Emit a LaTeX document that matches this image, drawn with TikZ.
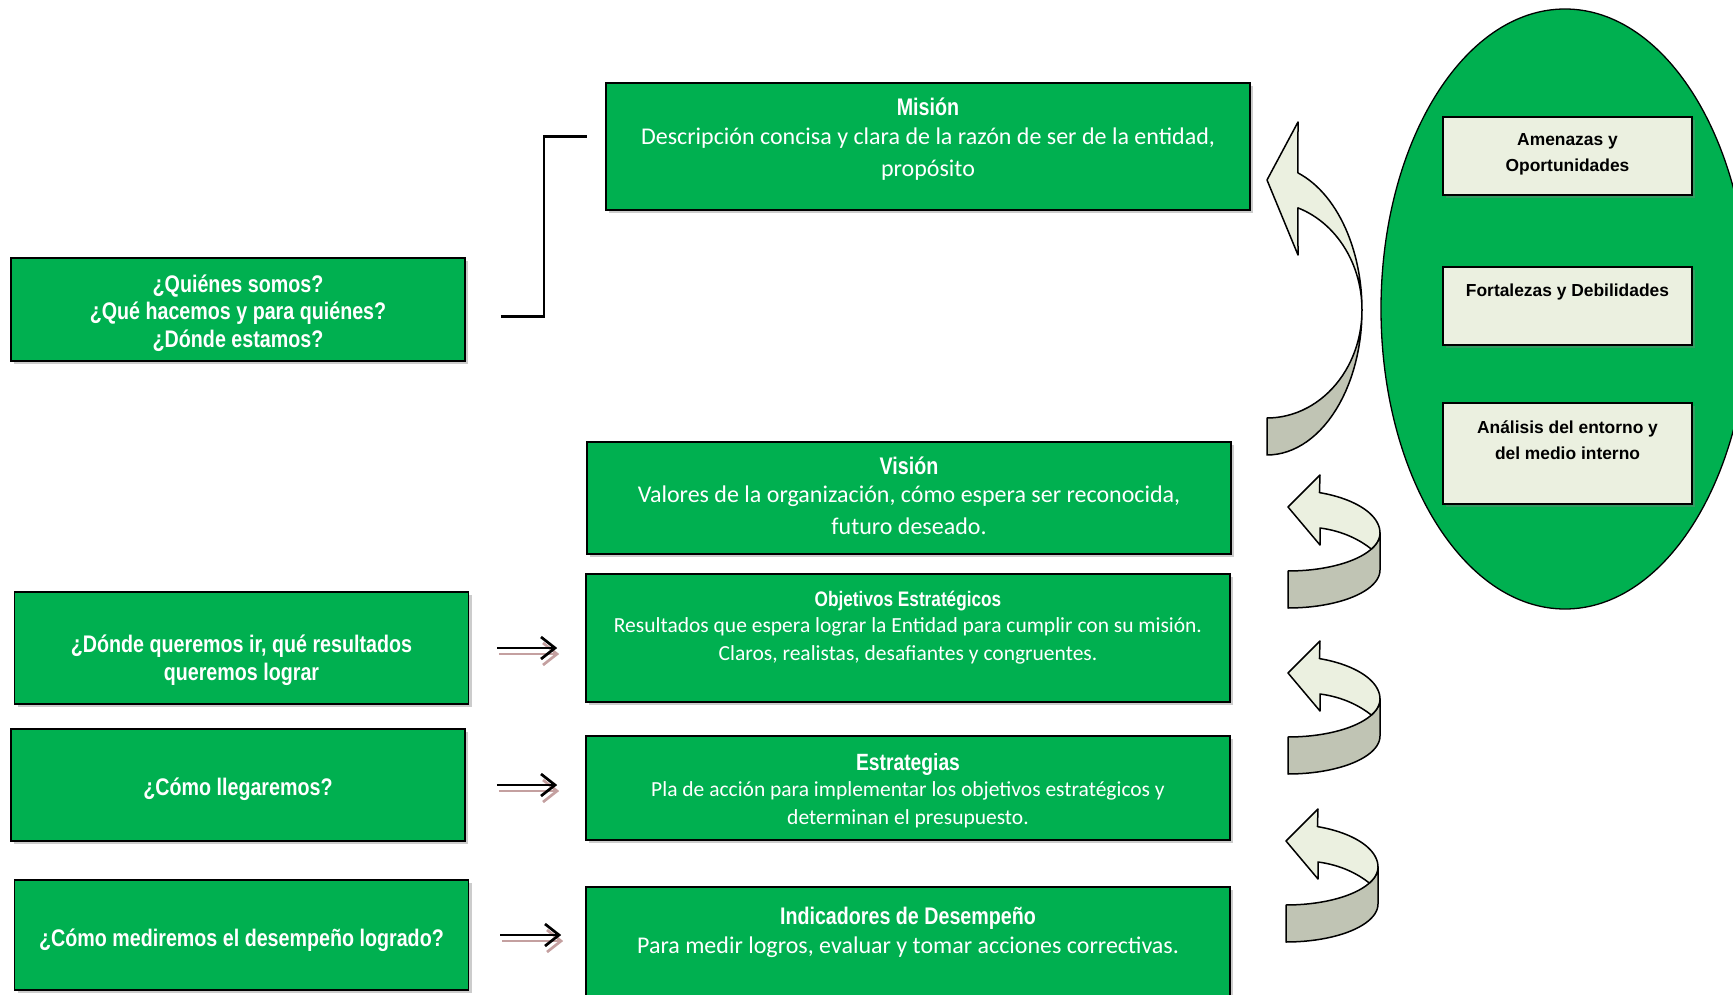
\documentclass[tikz,border=0pt]{standalone}
\usepackage{fontspec}
\setmainfont{Carlito}
\newfontfamily\narrowfont[FakeStretch=0.82]{Liberation Sans}
\newfontfamily\arialfont{Liberation Sans}
\usetikzlibrary{shapes.geometric,shadows,arrows.meta}

\definecolor{boxgreen}{RGB}{0,176,80}
\definecolor{paleolive}{RGB}{235,240,224}
\definecolor{greyolive}{RGB}{192,196,180}
\definecolor{rosegrey}{RGB}{196,160,160}

\tikzset{
  greenbox/.style={draw=black, line width=1.6pt, fill=boxgreen, text=white, align=center,
    minimum width=644pt, inner sep=0pt, font=\fontsize{24}{32}\selectfont,
    drop shadow={shadow xshift=3pt, shadow yshift=-3pt, opacity=0.4}},
  askbox/.style={greenbox, minimum width=454pt,
    font=\narrowfont\bfseries\fontsize{24}{27.5}\selectfont},
  entbox/.style={draw=black, line width=1.3pt, fill=paleolive, minimum width=249pt,
    inner sep=0pt, align=center, font=\arialfont\bfseries\fontsize{17.4}{26}\selectfont,
    drop shadow={shadow xshift=3pt, shadow yshift=-3pt, opacity=0.4}},
  fwd/.style={line width=2.7pt, -{Straight Barb[length=14pt,width=22pt]}},
  fwdshade/.style={fwd, draw=rosegrey, transform canvas={shift={(2pt,-6pt)}}},
  bracket/.style={line width=2.2pt},
  twist/.style={draw=black, line width=1.5pt, line join=round}
}

\begin{document}
\begin{tikzpicture}[x=1pt,y=-1pt]
\useasboundingbox (0,0) rectangle (1733,995);

% analisis del entorno
\node[ellipse, draw=black, line width=1.3pt, fill=boxgreen, minimum width=368pt,
  minimum height=600pt, inner sep=0pt] (entorno) at (1565,309) {};
\node[entbox, minimum height=78pt, text depth=7pt] (amenazas) at (1567.5,156) {Amenazas y\\ Oportunidades};
\node[entbox, minimum height=78pt, text depth=32pt] (fortalezas) at (1567.5,306) {Fortalezas y Debilidades};
\node[entbox, minimum height=101pt, text depth=26pt] (analisis) at (1567.5,453.5) {Análisis del entorno y\\ del medio interno};

% preguntas
\node[askbox, minimum height=103pt, text height=79.6pt] (q1) at (238,309.5) {¿Quiénes somos?\\ ¿Qué hacemos y para quiénes?\\ ¿Dónde estamos?};
\node[askbox, minimum height=112pt, text height=70pt] (q2) at (241.5,648) {¿Dónde queremos ir, qué resultados\\ queremos lograr};
\node[askbox, minimum height=112pt, text height=26.5pt] (q3) at (238,785) {¿Cómo llegaremos?};
\node[askbox, minimum height=110pt, text height=27.5pt] (q4) at (241.5,935) {¿Cómo mediremos el desempeño logrado?};

% plan
\node[greenbox, minimum height=127pt, text depth=18pt] (mision) at (928,146.5)
  {{\narrowfont\bfseries Misión}\\[-3pt] Descripción concisa y clara de la razón de ser de la entidad,\\ propósito};
\node[greenbox, minimum height=112pt, text height=78pt, text depth=5pt] (vision) at (909,498)
  {{\narrowfont\bfseries Visión}\\[-4pt] Valores de la organización, cómo espera ser reconocida,\\ futuro deseado.};
\node[greenbox, minimum height=128pt, text depth=25pt, font=\fontsize{21.5}{27.5}\selectfont] (objetivos) at (908,638)
  {{\narrowfont\bfseries\fontsize{21}{27}\selectfont Objetivos Estratégicos}\\[-1pt] Resultados que espera lograr la Entidad para cumplir con su misión.\\ Claros, realistas, desafiantes y congruentes.};
\node[greenbox, minimum height=104pt, text height=76pt, font=\fontsize{21.5}{27.5}\selectfont] (estrategias) at (908,788)
  {{\narrowfont\bfseries\fontsize{23.5}{27}\selectfont Estrategias}\\[-1pt] Pla de acción para implementar los objetivos estratégicos y\\ determinan el presupuesto.};
\node[greenbox, minimum height=123pt, text depth=37pt] (indicadores) at (908,948.5)
  {{\narrowfont\bfseries Indicadores de Desempeño}\\[-3pt] Para medir logros, evaluar y tomar acciones correctivas.};

% conectores
\draw[bracket] (q1.east) ++(35,7) -- ++(43,0) |- ([xshift=-18pt,yshift=10pt]mision.west);
\foreach \qa/\qb/\sa/\sb in {q2/objetivos/28/28, q3/estrategias/31/28, q4/indicadores/31/24}{
  \draw[fwdshade, shorten <=\sa pt, shorten >=\sb pt] (\qa.east) -- (\qa.east -| \qb.west);
  \draw[fwd, shorten <=\sa pt, shorten >=\sb pt] (\qa.east) -- (\qa.east -| \qb.west);
}

% flecha grande
\filldraw[twist, fill=greyolive] plot[domain=0:90, samples=30] ({1267+95*cos(\x)},{310+145*sin(\x)})
  -- plot[domain=90:0, samples=30] ({1267+95*cos(\x)},{310+108*sin(\x)}) -- cycle;
\filldraw[twist, fill=paleolive] (1298,122) -- (1267,180) -- (1298,255)
  -- plot[domain=-71:0, samples=30] ({1267+95*cos(\x)},{310+108*sin(\x)})
  -- plot[domain=0:-71, samples=30] ({1267+95*cos(\x)},{310+145*sin(\x)}) -- cycle;

% flechas pequenas
\foreach \ox/\oy in {1288/533, 1288/699, 1286/867}{
  \begin{scope}[shift={(\ox,\oy)}]
    \filldraw[twist, fill=greyolive] plot[domain=0:90, samples=25] ({92*cos(\x)},{37+38*sin(\x)})
      -- (0,38) -- plot[domain=90:0, samples=25] ({92*cos(\x)},{38*sin(\x)}) -- cycle;
    \filldraw[twist, fill=paleolive] (32,-58) -- (0,-26) -- (32,12) -- (32,-5)
      .. controls (55,-2) and (72,7) .. (83.4,16.1)
      -- plot[domain=25:0, samples=15] ({92*cos(\x)},{38*sin(\x)})
      -- plot[domain=0:-70, samples=25] ({92*cos(\x)},{43*sin(\x)}) -- cycle;
  \end{scope}
}
\end{tikzpicture}
\end{document}
